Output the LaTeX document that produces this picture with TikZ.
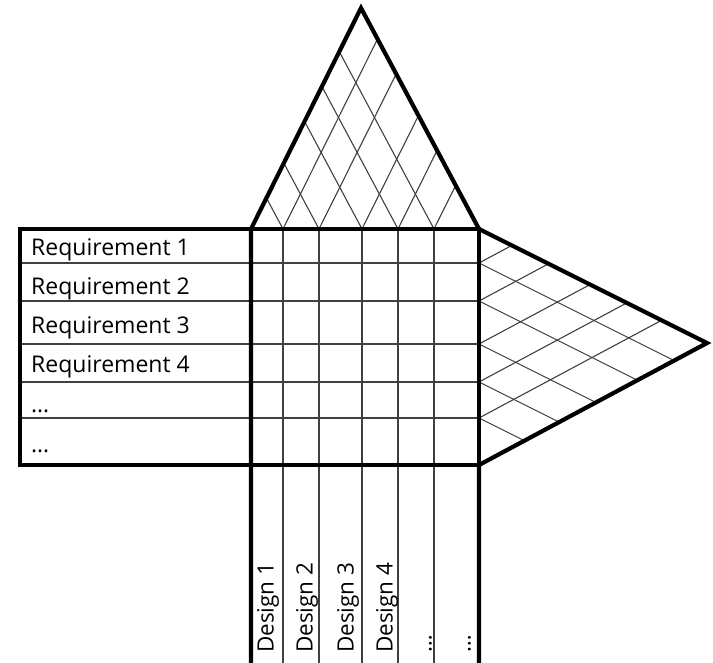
\documentclass[tikz,border=0pt]{standalone}
\usepackage{fontspec}
\setmainfont{Open Sans}
\begin{document}
\begin{tikzpicture}[x=1pt,y=-1pt,
  thickline/.style={line width=4.2pt},
  thinline/.style={line width=1.1pt, black!75},
  reqlabel/.style={anchor=base west, inner sep=0pt, font=\fontsize{23}{23}\selectfont},
  deslabel/.style={rotate=90, anchor=base west, inner sep=0pt, font=\fontsize{22.5}{22.5}\selectfont}]
\useasboundingbox (0,0) rectangle (713,663);
% key points
\coordinate (A) at (361,8);
\coordinate (L) at (251,229);
\coordinate (R) at (479,229);
\coordinate (LB) at (251,465);
\coordinate (RB) at (479,465);
\coordinate (P) at (707,343);
\coordinate (BL) at (251,663);
\coordinate (BR) at (479,663);
\coordinate (TL) at (20,229);
\coordinate (TLB) at (20,465);
% row lines
\foreach \y [count=\i] in {263,301,344,382,418} {
  \coordinate (rl\i) at (20,\y);
  \coordinate (rr\i) at (479,\y);
  \draw[thinline] (rl\i) -- (rr\i);
  \pgfmathsetmacro{\t}{(465-\y)/236}
  \pgfmathsetmacro{\u}{(\y-229)/236}
  \coordinate (rd\i) at (479+228*\t, \y+114*\t);
  \coordinate (ru\i) at (479+228*\u, \y-122*\u);
  \draw[thinline] (rr\i) -- (rd\i);
  \draw[thinline] (rr\i) -- (ru\i);
}
% column lines
\foreach \x [count=\i] in {283,319,362,398,434} {
  \coordinate (ct\i) at (\x,229);
  \coordinate (cb\i) at (\x,663);
  \draw[thinline] (ct\i) -- (cb\i);
  \pgfmathsetmacro{\t}{(479-\x)/228}
  \pgfmathsetmacro{\u}{(\x-251)/228}
  \coordinate (tr\i) at (\x+110*\t, 229-221*\t);
  \coordinate (tl\i) at (\x-118*\u, 229-221*\u);
  \draw[thinline] (ct\i) -- (tr\i);
  \draw[thinline] (ct\i) -- (tl\i);
}
% thick outlines
\draw[thickline] (TL) rectangle (RB);
\draw[thickline] (BL) -- (L) -- (A) -- (R) -- (P) -- (RB) -- (BR);
% requirement labels
\node[reqlabel] (q1) at (31,256) {Requirement 1};
\node[reqlabel] (q2) at (31,295) {Requirement 2};
\node[reqlabel] (q3) at (31,334) {Requirement 3};
\node[reqlabel] (q4) at (31,373) {Requirement 4};
\node[reqlabel] (q5) at (31,413) {…};
\node[reqlabel] (q6) at (31,452) {…};
% design labels
\node[deslabel] (d1) at (273.5,653) {Design 1};
\node[deslabel] (d2) at (312.5,653) {Design 2};
\node[deslabel] (d3) at (353.5,653) {Design 3};
\node[deslabel] (d4) at (392.5,653) {Design 4};
\node[deslabel] (d5) at (431.5,653) {…};
\node[deslabel] (d6) at (470.5,653) {…};
\end{tikzpicture}
\end{document}
